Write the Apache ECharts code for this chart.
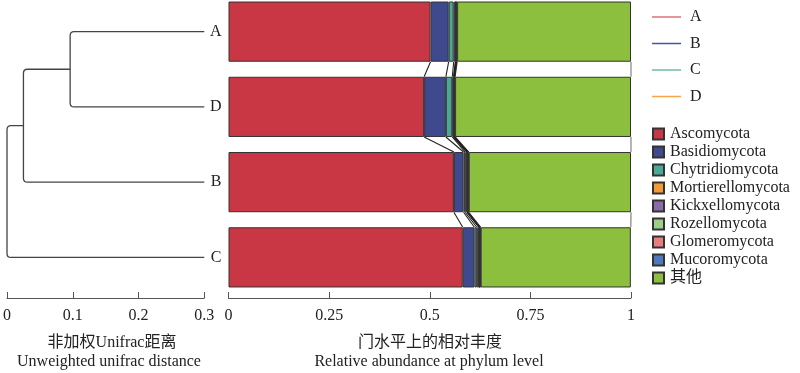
<!DOCTYPE html>
<html><head><meta charset="utf-8">
<script src="https://cdn.jsdelivr.net/npm/echarts@6/dist/echarts.min.js"></script>
<style>html,body{margin:0;padding:0;background:#fff;overflow:hidden;width:800px;height:373px;position:relative}#c{position:absolute;left:0;top:-10px;width:800px;height:383px}</style>
</head><body><div id="c"></div>
<script>
// ---- data ----
const samples = ['A', 'D', 'B', 'C'];           // order top to bottom (dendrogram leaf order)
const phyla = ['Ascomycota','Basidiomycota','Chytridiomycota','Mortierellomycota','Kickxellomycota','Rozellomycota','Glomeromycota','Mucoromycota','其他'];
const phylumColors = ['#C93745','#3F4A8E','#4AA897','#F39A38','#8C6BAA','#9DCF8A','#E97C7C','#5079BD','#8CBF3E'];
// relative abundance per sample, order A, D, B, C
const ascomycota        = [0.502, 0.486, 0.560, 0.582];
const basidiomycota     = [0.045, 0.054, 0.024, 0.029];
const chytridiomycota   = [0.0125, 0.016, 0.004, 0.006];
const mortierellomycota = [0.004, 0.003, 0.004, 0.005];
const kickxellomycota   = [0.001, 0.001, 0.001, 0.001];
const rozellomycota     = [0.001, 0.001, 0.001, 0.001];
const glomeromycota     = [0.001, 0.001, 0.001, 0.001];
const mucoromycota      = [0.0015, 0.001, 0.002, 0.0016];
const others            = [0.432, 0.437, 0.403, 0.373];
const phylumValues = [ascomycota, basidiomycota, chytridiomycota, mortierellomycota, kickxellomycota, rozellomycota, glomeromycota, mucoromycota, others];
// dendrogram (unweighted UniFrac), node positions on the distance axis
const leafDistance = 0.3;
const mergeLeft   = ['A', 'AD', 'ADB'];
const mergeRight  = ['D', 'B', 'C'];
const mergeName   = ['AD', 'ADB', 'ADBC'];
const mergeDistance = [0.096, 0.025, 0.0];
// legend line entries
const groupNames = ['A', 'B', 'C', 'D'];
const groupColors = ['#E0707A', '#4454A6', '#6CBCA6', '#F6A74A'];
// axis ticks
const distTicks = [0, 0.1, 0.2, 0.3];
const abundTicks = [0, 0.25, 0.5, 0.75, 1];

const SERIF = '"Liberation Serif", "Noto Sans CJK SC", serif';
const LINE = '#444';
const DY = 10; // container is shifted up by this many pixels

const chart = echarts.init(document.getElementById('c'), null, {renderer: 'canvas'});

function nodePos() {
  const pos = {};
  samples.forEach((s, i) => pos[s] = [leafDistance, i]);
  mergeName.forEach((n, i) => {
    const a = pos[mergeLeft[i]], b = pos[mergeRight[i]];
    pos[n] = [mergeDistance[i], (a[1] + b[1]) / 2];
  });
  return pos;
}

const bars = phyla.map((p, k) => ({
  name: p, type: 'bar', stack: 'ab', xAxisIndex: 1, yAxisIndex: 1,
  barWidth: '80%',
  data: phylumValues[k],
  itemStyle: {color: phylumColors[k], borderColor: '#333', borderWidth: 1},
  emphasis: {disabled: true}
}));

const dummyLines = groupNames.map((g, i) => ({
  name: g, type: 'line', xAxisIndex: 1, yAxisIndex: 1, data: [],
  itemStyle: {color: groupColors[i]}, lineStyle: {color: groupColors[i]}
}));

const dendro = {
  type: 'custom', xAxisIndex: 0, yAxisIndex: 0, data: [0], clip: false, silent: true,
  renderItem: function (params, api) {
    const pos = nodePos();
    const r = 4;
    const children = mergeName.map((n, i) => {
      const a = api.coord(pos[mergeLeft[i]]);
      const b = api.coord(pos[mergeRight[i]]);
      const xn = api.coord(pos[n])[0];
      const top = a[1] < b[1] ? a : b, bot = a[1] < b[1] ? b : a;
      const d = `M${top[0]},${top[1]} L${xn + r},${top[1]} Q${xn},${top[1]} ${xn},${top[1] + r} L${xn},${bot[1] - r} Q${xn},${bot[1]} ${xn + r},${bot[1]} L${bot[0]},${bot[1]}`;
      return {type: 'path', shape: {pathData: d}, style: {fill: null, stroke: LINE, lineWidth: 1.3}};
    });
    return {type: 'group', children: children};
  }
};

const links = {
  type: 'custom', xAxisIndex: 1, yAxisIndex: 1, data: [0], clip: false, silent: true, z: 3,
  renderItem: function (params, api) {
    const half = api.size([0, 1])[1] * 0.4;
    const children = [];
    for (let i = 0; i < samples.length - 1; i++) {
      let c1 = 0, c2 = 0;
      for (let k = 0; k < phyla.length; k++) {
        c1 += phylumValues[k][i];
        c2 += phylumValues[k][i + 1];
        const p1 = api.coord([Math.min(c1, 1), samples[i]]);
        const p2 = api.coord([Math.min(c2, 1), samples[i + 1]]);
        children.push({type: 'line', shape: {x1: p1[0], y1: p1[1] + half, x2: p2[0], y2: p2[1] - half},
          style: {stroke: k === phyla.length - 1 ? '#777' : '#222', lineWidth: 1.1}});
      }
    }
    return {type: 'group', children: children};
  }
};

const axisCommon = {
  type: 'value', offset: 3, position: 'bottom',
  axisLine: {show: true, onZero: false, lineStyle: {color: '#555', width: 1}},
  axisTick: {show: true, inside: true, length: 6, lineStyle: {color: '#555'}},
  axisLabel: {margin: 10, color: '#222', fontFamily: SERIF, fontSize: 16, showMinLabel: true, showMaxLabel: true},
  splitLine: {show: false}
};

chart.setOption({
  animation: false,
  backgroundColor: '#fff',
  grid: [
    {left: 4.3, width: 200, top: DY - 6, height: 301},
    {left: 228.5, width: 402.5, top: DY - 6, height: 301}
  ],
  xAxis: [
    Object.assign({}, axisCommon, {gridIndex: 0, min: distTicks[0], max: distTicks[distTicks.length - 1], interval: distTicks[1] - distTicks[0]}),
    Object.assign({}, axisCommon, {gridIndex: 1, min: abundTicks[0], max: abundTicks[abundTicks.length - 1], interval: abundTicks[1] - abundTicks[0]})
  ],
  yAxis: [
    {type: 'value', gridIndex: 0, min: -0.5, max: samples.length - 0.5, inverse: true, show: false},
    {type: 'category', gridIndex: 1, data: samples, inverse: true,
     axisLine: {show: false}, axisTick: {show: false},
     axisLabel: {margin: 7, color: '#222', fontFamily: SERIF, fontSize: 16}}
  ],
  legend: [
    {data: groupNames, orient: 'vertical', left: 647, top: DY + 4, icon: 'rect',
     itemWidth: 29, itemHeight: 1.5, itemGap: 10.5, selectedMode: false,
     textStyle: {fontFamily: SERIF, fontSize: 16, color: '#222', lineHeight: 16, padding: [0, 0, 0, 4]}},
    {data: phyla, orient: 'vertical', left: 647, top: DY + 120, icon: 'rect',
     itemWidth: 11, itemHeight: 11, itemGap: 0, selectedMode: false,
     textStyle: {fontFamily: SERIF, fontSize: 16, color: '#222', lineHeight: 18, padding: [0, 0, 0, 1]}}
  ],
  graphic: [
    {type: 'text', style: {text: '非加权Unifrac距离', font: '16px ' + SERIF, fill: '#222', align: 'center', verticalAlign: 'middle', x: 112, y: DY + 343}},
    {type: 'text', style: {text: 'Unweighted unifrac distance', font: '16px ' + SERIF, fill: '#222', align: 'center', verticalAlign: 'middle', x: 109, y: DY + 362}},
    {type: 'text', style: {text: '门水平上的相对丰度', font: '16px ' + SERIF, fill: '#222', align: 'center', verticalAlign: 'middle', x: 430, y: DY + 343}},
    {type: 'text', style: {text: 'Relative abundance at phylum level', font: '16px ' + SERIF, fill: '#222', align: 'center', verticalAlign: 'middle', x: 429, y: DY + 362}}
  ],
  series: bars.concat(dummyLines, [dendro, links])
});
</script></body></html>
